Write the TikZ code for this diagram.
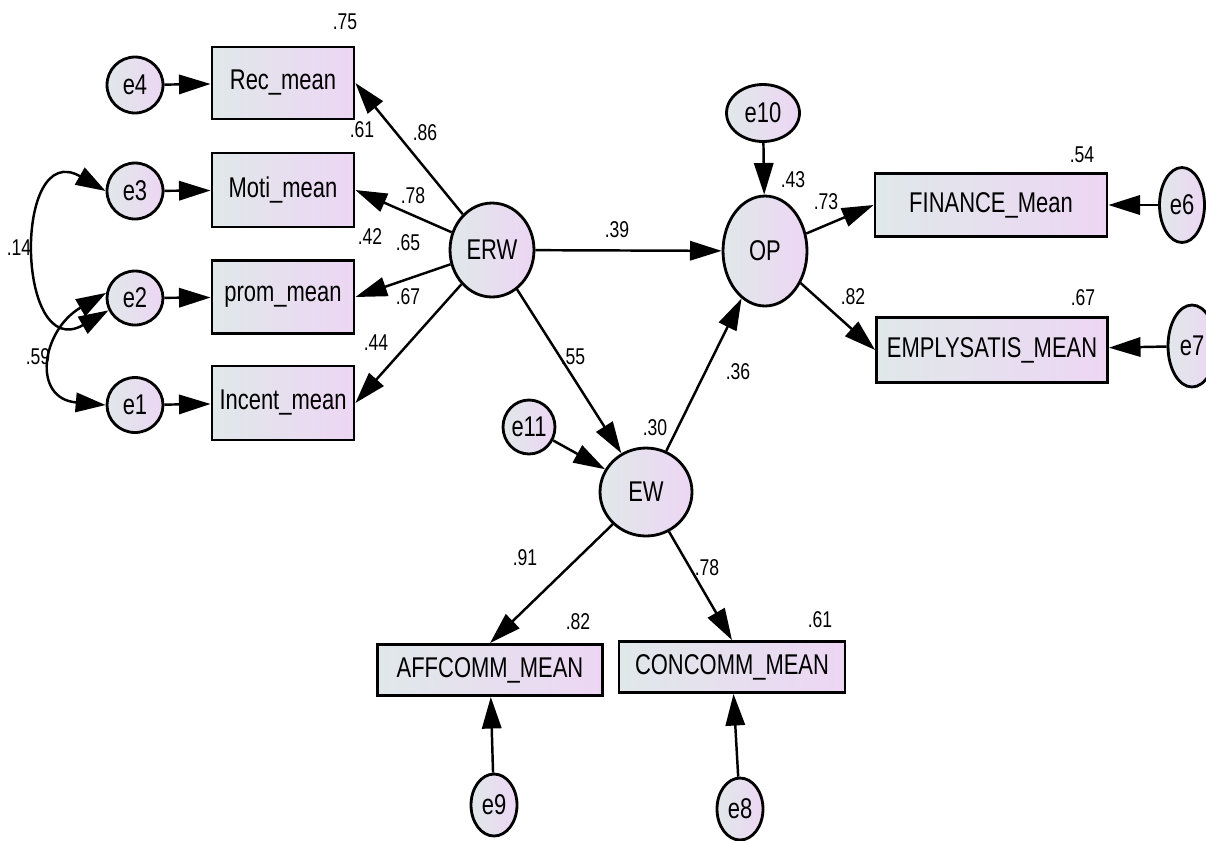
\documentclass[tikz,border=0pt]{standalone}
\usepackage{fontspec}
\setmainfont{Liberation Sans}
\usetikzlibrary{arrows.meta,shapes.geometric}

\definecolor{amosleft}{RGB}{224,232,233}
\definecolor{amosright}{RGB}{237,214,244}

\newcommand{\tall}[1]{\scalebox{1}[1.3]{#1}}

\begin{document}
\begin{tikzpicture}[
		x=0.02cm, y=-0.02cm,
		shaded/.style={draw, line width=1.6pt, left color=amosleft, right color=amosright},
		obs/.style={shaded, rectangle, inner sep=0pt, font=\fontsize{12.5}{14}\selectfont},
		err/.style={shaded, ellipse, inner sep=0pt, font=\fontsize{12.5}{14}\selectfont},
		lat/.style={shaded, ellipse, inner sep=0pt, font=\fontsize{12.5}{14}\selectfont},
		reg/.style={line width=1.4pt, -{Triangle[length=18pt,width=11pt]}},
		cov/.style={line width=1.4pt, {Triangle[length=17pt,width=11pt]}-{Triangle[length=17pt,width=11pt]}},
		num/.style={font=\fontsize{10}{12}\selectfont, inner sep=0pt},
	]
	\useasboundingbox (0,0) rectangle (1206,840);

	% measured variables
	\node[obs, minimum width=2.84cm, minimum height=1.44cm] (rec) at (283,83) {\tall{Rec\_mean}};
	\node[obs, minimum width=2.84cm, minimum height=1.48cm] (moti) at (283,190) {\tall{Moti\_mean}};
	\node[obs, minimum width=2.84cm, minimum height=1.46cm] (prom) at (283,297) {\tall{prom\_mean}};
	\node[obs, minimum width=2.84cm, minimum height=1.48cm] (incent) at (283,403) {\tall{Incent\_mean}};
	\node[obs, minimum width=4.64cm, minimum height=1.26cm] (fin) at (991,205) {\tall{FINANCE\_Mean}};
	\node[obs, minimum width=4.62cm, minimum height=1.30cm] (emp) at (992,350) {\tall{EMPLYSATIS\_MEAN}};
	\node[obs, minimum width=4.50cm, minimum height=1.02cm] (aff) at (490,670) {\tall{AFFCOMM\_MEAN}};
	\node[obs, minimum width=4.52cm, minimum height=1.02cm] (con) at (732,667) {\tall{CONCOMM\_MEAN}};

	% latent variables
	\node[lat, minimum width=1.68cm, minimum height=1.88cm] (erw) at (492,250) {\tall{ERW}};
	\node[lat, minimum width=1.68cm, minimum height=2.20cm] (op) at (765,251) {\tall{OP}};
	\node[lat, minimum width=1.84cm, minimum height=1.76cm] (ew) at (646,492) {\tall{EW}};

	% errors
	\node[err, minimum width=1.12cm, minimum height=1.12cm] (e4) at (135,85) {\tall{e4}};
	\node[err, minimum width=1.12cm, minimum height=1.12cm] (e3) at (135,191) {\tall{e3}};
	\node[err, minimum width=1.12cm, minimum height=1.08cm] (e2) at (135,298) {\tall{e2}};
	\node[err, minimum width=1.12cm, minimum height=1.10cm] (e1) at (135,405) {\tall{e1}};
	\node[err, minimum width=1.46cm, minimum height=1.14cm] (e10) at (763,113) {\tall{e10}};
	\node[err, minimum width=1.04cm, minimum height=1.08cm] (e11) at (529,427) {\tall{e11}};
	\node[err, minimum width=0.90cm, minimum height=1.50cm] (e6) at (1182,205) {\tall{e6}};
	\node[err, minimum width=0.96cm, minimum height=1.64cm] (e7) at (1192,346) {\tall{e7}};
	\node[err, minimum width=0.92cm, minimum height=1.24cm] (e9) at (494,805) {\tall{e9}};
	\node[err, minimum width=0.92cm, minimum height=1.24cm] (e8) at (740,809) {\tall{e8}};

	% paths
	\draw[reg] (e4) -- (rec);
	\draw[reg] (e3) -- (moti);
	\draw[reg] (e2) -- (prom);
	\draw[reg] (e1) -- (incent);
	\draw[reg] (erw) -- (rec.east);
	\draw[reg] (erw) -- (moti.east);
	\draw[reg] (erw) -- (prom.east);
	\draw[reg] (erw) -- (incent.east);
	\draw[reg] (erw) -- (op);
	\draw[reg] (erw) -- (ew);
	\draw[reg] (ew) -- (op);
	\draw[reg] (e10) -- (op);
	\draw[reg] (e11) -- (ew);
	\draw[reg] (op) -- (fin.west);
	\draw[reg] (op) -- (emp.west);
	\draw[reg] (e6) -- (fin);
	\draw[reg] (e7) -- (emp);
	\draw[reg] (ew) -- (aff.north);
	\draw[reg] (ew) -- (con.north);
	\draw[reg] (e9) -- (aff);
	\draw[reg] (e8) -- (con);

	% covariances
	\draw[cov] (e3.west) to[out=150, in=210, looseness=2.3] (e2.205);
	\draw[cov] (e2.170) to[out=210, in=175, looseness=1.7] (e1.west);

	% estimates
	\node[num] (r75) at (345,22) {\tall{.75}};
	\node[num] (r61) at (362,130) {\tall{.61}};
	\node[num] (w86) at (425,133) {\tall{.86}};
	\node[num] (w78) at (413,196) {\tall{.78}};
	\node[num] (r42) at (370,237) {\tall{.42}};
	\node[num] (w65) at (408,243) {\tall{.65}};
	\node[num] (w67) at (408,297) {\tall{.67}};
	\node[num] (r44) at (376,343) {\tall{.44}};
	\node[num] (c14) at (19,248) {\tall{.14}};
	\node[num] (c59) at (38,357) {\tall{.59}};
	\node[num] (w39) at (617,230) {\tall{.39}};
	\node[num] (w55) at (573,357) {\tall{.55}};
	\node[num] (w36) at (738,372) {\tall{.36}};
	\node[num] (r30) at (655,428) {\tall{.30}};
	\node[num] (r43) at (793,180) {\tall{.43}};
	\node[num] (w73) at (826,202) {\tall{.73}};
	\node[num] (r54) at (1082,155) {\tall{.54}};
	\node[num] (w82) at (853,297) {\tall{.82}};
	\node[num] (r67) at (1083,298) {\tall{.67}};
	\node[num] (w91) at (525,558) {\tall{.91}};
	\node[num] (w78b) at (707,568) {\tall{.78}};
	\node[num] (r82) at (578,622) {\tall{.82}};
	\node[num] (r61b) at (820,620) {\tall{.61}};
\end{tikzpicture}
\end{document}
